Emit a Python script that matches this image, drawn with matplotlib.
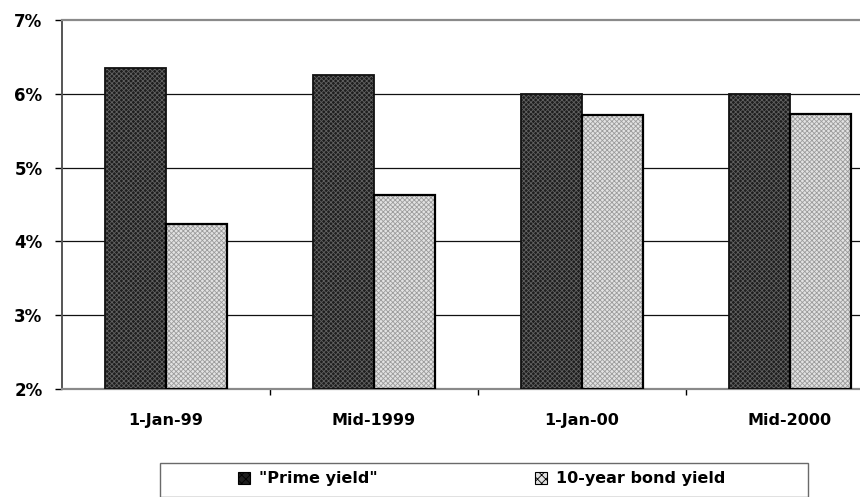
import matplotlib
matplotlib.use("Agg")
import matplotlib.pyplot as plt
from matplotlib.patches import Rectangle, Patch
from matplotlib.ticker import FixedLocator, FuncFormatter
import numpy as np

categories = ["1-Jan-99", "Mid-1999", "1-Jan-00", "Mid-2000"]
prime_yield = [6.35, 6.25, 6.00, 6.00]
bond_yield = [4.23, 4.63, 5.71, 5.72]
series_names = ['"Prime yield"', "10-year bond yield"]
y_ticks = [2, 3, 4, 5, 6, 7]

plt.rcParams["font.family"] = ["DejaVu Sans"]
plt.rcParams["font.weight"] = "bold"
plt.rcParams["hatch.linewidth"] = 0.6

W, H = 860, 497
fig = plt.figure(figsize=(W / 100, H / 100), dpi=100)
ax = fig.add_axes([62 / W, (H - 389) / H, 832 / W, 369 / H])

x = np.arange(len(categories))
bw = 0.295

dark_face, dark_hatch = "#1e1e1e", "#606060"
light_face, light_hatch = "#e2e2e2", "#9c9c9c"

# textured fills, then crisp black outlines on top
ax.bar(x - bw / 2, [v - 2 for v in prime_yield], bw, bottom=2, color=dark_face,
       edgecolor=dark_hatch, linewidth=0, hatch="xxxxxxx", zorder=3)
ax.bar(x - bw / 2, [v - 2 for v in prime_yield], bw, bottom=2, fill=False,
       edgecolor="#111111", linewidth=1.3, zorder=4)
ax.bar(x + bw / 2, [v - 2 for v in bond_yield], bw, bottom=2, color=light_face,
       edgecolor=light_hatch, linewidth=0, hatch="xxxxxxx", zorder=3)
ax.bar(x + bw / 2, [v - 2 for v in bond_yield], bw, bottom=2, fill=False,
       edgecolor="#000000", linewidth=1.6, zorder=4)

ax.set_xlim(-0.5, len(categories) - 0.5)
ax.set_ylim(2, 7)

# horizontal gridlines
for t in y_ticks[1:-1]:
    ax.axhline(t, color="#111111", linewidth=0.9, zorder=1)

ax.spines["top"].set_color("#8a8a8a")
ax.spines["top"].set_linewidth(1.6)
ax.spines["right"].set_visible(False)
ax.spines["left"].set_color("#555555")
ax.spines["left"].set_linewidth(1.4)
ax.spines["bottom"].set_color("#8a8a8a")
ax.spines["bottom"].set_linewidth(1.6)

ax.yaxis.set_major_locator(FixedLocator(y_ticks))
ax.yaxis.set_major_formatter(FuncFormatter(lambda v, p: f"{int(v)}%"))
ax.tick_params(axis="y", direction="out", length=5, width=1, color="#000000",
               pad=9, labelsize=12)

ax.set_xticks(x)
ax.set_xticklabels(categories)
ax.set_xticks(x[:-1] + 0.5, minor=True)
ax.tick_params(axis="x", which="major", length=0, pad=17, labelsize=11.5)
ax.tick_params(axis="x", which="minor", direction="out", length=4.5, width=1,
               color="#000000")
for lab in ax.get_xticklabels() + ax.get_yticklabels():
    lab.set_fontweight("bold")

# legend frame and entries
fig.patches.append(Rectangle((160 / W, 0), 648 / W, (H - 462.5) / H,
                             transform=fig.transFigure, fill=False,
                             edgecolor="#6a6a6a", linewidth=1.0))
handles = [
    Patch(facecolor=dark_face, edgecolor=dark_hatch, hatch="xxxx", linewidth=0),
    Patch(facecolor=light_face, edgecolor=light_hatch, hatch="xxxx", linewidth=0),
]
for h, name, hx in zip(handles, series_names, [238, 535]):
    leg = fig.legend([h], [name], loc="center left",
                     bbox_to_anchor=(hx / W, (H - 479) / H), frameon=False,
                     borderpad=0, borderaxespad=0, handlelength=0.75,
                     handleheight=0.75, handletextpad=0.55,
                     prop={"size": 11.5, "weight": "bold"})
    for p in leg.get_patches():
        p.set_edgecolor("#000000")
        p.set_linewidth(0.8)

fig.savefig("out.png", dpi=100)
